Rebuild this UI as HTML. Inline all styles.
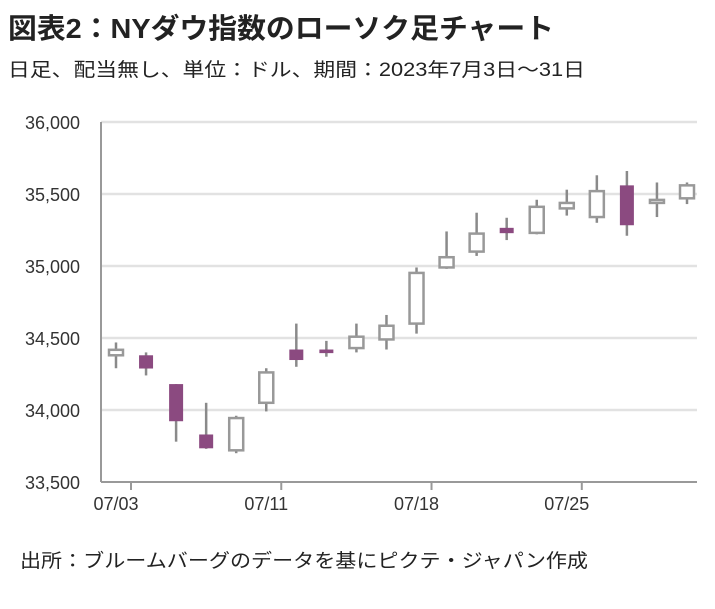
<!DOCTYPE html>
<html><head><meta charset="utf-8"><style>
body{margin:0;background:#fff;font-family:"Liberation Sans","Noto Sans CJK JP",sans-serif;}
</style></head><body>
<svg width="715" height="604" xmlns="http://www.w3.org/2000/svg" style="font-family:'Liberation Sans','Noto Sans CJK JP',sans-serif">
<text x="8" y="38" font-size="28" font-weight="bold" fill="#222" textLength="546" lengthAdjust="spacingAndGlyphs">図表2：NYダウ指数のローソク足チャート</text>
<text x="8" y="76" font-size="19" fill="#222" textLength="577" lengthAdjust="spacingAndGlyphs">日足、配当無し、単位：ドル、期間：2023年7月3日～31日</text>
<g id="grid"></g><g id="candles"></g>
<text x="20" y="567" font-size="19" fill="#222" textLength="568" lengthAdjust="spacingAndGlyphs">出所：ブルームバーグのデータを基にピクテ・ジャパン作成</text>
</svg>
<script>
const dates=["07/03","07/05","07/06","07/07","07/10","07/11","07/12","07/13","07/14","07/17","07/18","07/19","07/20","07/21","07/24","07/25","07/26","07/27","07/28","07/31"];
const opens=[34380,34380,34180,33830,33720,34050,34420,34420,34430,34490,34600,34990,35100,35265,35230,35400,35340,35560,35440,35470];
const highs=[34469,34400,34180,34050,33960,34290,34600,34480,34600,34660,34990,35240,35370,35335,35460,35530,35630,35660,35580,35580];
const lows=[34290,34240,33780,33730,33700,33990,34300,34370,34400,34420,34530,34980,35070,35180,35220,35350,35300,35210,35340,35430];
const closes=[34418,34288,33922,33734,33944,34261,34347,34395,34509,34585,34952,35061,35225,35228,35411,35438,35520,35283,35459,35560];
const yTicks=[33500,34000,34500,35000,35500,36000];
const xTickIdx=[0,5,10,15];
const NS="http://www.w3.org/2000/svg";
const x0=101,x1=697,yTop=122,yBot=482;
const y=v=>yBot-(v-33500)/(36000-33500)*(yBot-yTop);
const x=i=>116+i*(x1-116-10)/(dates.length-1)*1.0;
function mk(t,a,p){const e=document.createElementNS(NS,t);for(const k in a)e.setAttribute(k,a[k]);(p||document.getElementById('grid')).appendChild(e);return e;}
const g=document.getElementById('grid');
yTicks.forEach(v=>{
 if(v>33500){const l=mk('line',{x1:x0,x2:x1,y1:y(v),y2:y(v),stroke:'#e2e2e2','stroke-width':2.5});
 
 }
 const t=mk('text',{x:80,y:y(v)+7,'text-anchor':'end','font-size':18,fill:'#333'});t.textContent=v.toLocaleString('en-US');
 
 
});
const ax=mk('line',{x1:x0,x2:x0,y1:yTop,y2:yBot,stroke:'#999','stroke-width':2});


const bx=mk('line',{x1:x0,x2:x1,y1:yBot,y2:yBot,stroke:'#999','stroke-width':2});


xTickIdx.forEach(i=>{
 const tk=mk('line',{x1:x(i)+15,x2:x(i)+15,y1:yBot,y2:yBot+8,stroke:'#999','stroke-width':2});
 
 
 const t=mk('text',{x:x(i),y:510,'text-anchor':'middle','font-size':18,fill:'#333'});t.textContent=dates[i];
 
 
});
const c=document.getElementById('candles');
dates.forEach((d,i)=>{
 const up=closes[i]>=opens[i];const col=up?'#999':'#8b4a80';
 const cx=x(i);const gg=mk('g',{},c);
 
 
 mk('line',{x1:cx,x2:cx,y1:y(highs[i]),y2:y(lows[i]),stroke:'#8a8a8a','stroke-width':2.5},gg);
 const top=y(Math.max(opens[i],closes[i])),bot=y(Math.min(opens[i],closes[i]));
 mk('rect',{x:cx-7,y:top,width:14,height:Math.max(bot-top,3),fill:up?'#fff':col,stroke:col,'stroke-width':up?2.5:0},gg);
});
</script>
</body></html>
